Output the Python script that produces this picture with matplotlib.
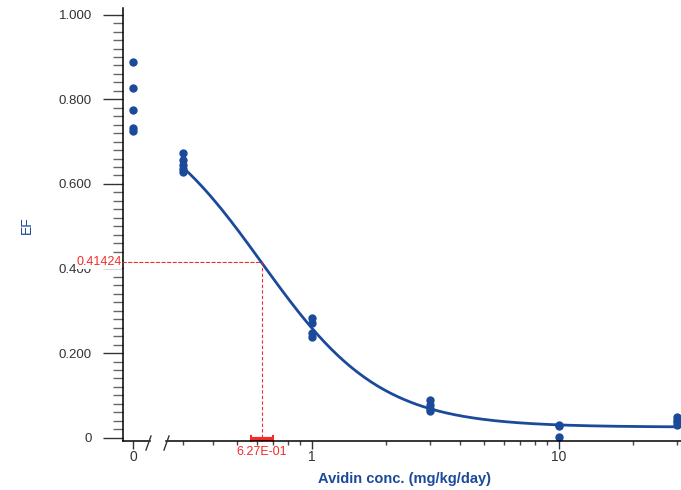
import matplotlib
matplotlib.use("Agg")
import matplotlib.pyplot as plt
import numpy as np
from matplotlib.patches import ConnectionPatch
from matplotlib.ticker import FixedLocator, NullFormatter, FixedFormatter

plt.rcParams['font.family'] = ['Liberation Sans', 'DejaVu Sans']

# ---- data ----
ctrl_y = [0.888, 0.827, 0.774, 0.733, 0.725]
dose_x = [0.3]*5 + [1]*4 + [3]*4 + [10]*3 + [30]*4
dose_y = [0.672, 0.656, 0.645, 0.636, 0.628,
          0.284, 0.270, 0.248, 0.239,
          0.090, 0.078, 0.068, 0.062,
          0.030, 0.027, 0.002,
          0.048, 0.042, 0.036, 0.030]
# 4-parameter logistic fit parameters
fit_top, fit_bottom, fit_ec50, fit_hill = 0.803, 0.025, 0.627, 1.8
ec50_y = 0.41424
ec50_ci = [0.568, 0.699]
ec50_label = "6.27E-01"
ec50_ylabel = "0.41424"
y_major = [0, 0.2, 0.4, 0.6, 0.8, 1.0]
y_labels = ['0', '0.200', '0.400', '0.600', '0.800', '1.000']

BLUE = '#1b4a9b'
RED = '#f52a2a'
TXT = '#333333'

W, H = 681, 490
fig = plt.figure(figsize=(W/100, H/100), dpi=100)

def fx(px):
    return px / W
def fy(py):
    return 1 - py / H

y_bot_px, y_top_px = 440.7, 8.0
zero_px, one_px, dec_px = 437.7, 311.7, 247.0
ylim = ((zero_px - y_bot_px) / 423.0, (zero_px - y_top_px) / 423.0)

# zero (control) axes
ax0 = fig.add_axes([fx(123), fy(y_bot_px), fx(150 - 123), (y_bot_px - y_top_px) / H])
# log axes
log_left, log_right = 166, 681
ax1 = fig.add_axes([fx(log_left), fy(y_bot_px), fx(log_right - log_left), (y_bot_px - y_top_px) / H])

for ax in (ax0, ax1):
    ax.set_ylim(*ylim)
    ax.spines['top'].set_visible(False)
    ax.spines['right'].set_visible(False)
    ax.spines['bottom'].set_linewidth(1.1)
    ax.spines['left'].set_linewidth(1.1)
    ax.patch.set_alpha(0)

ax0.set_xlim(-10, 17)
ax0.set_xticks([0])
ax0.set_xticklabels(['0'])
ax0.set_yticks(y_major)
ax0.set_yticklabels(y_labels)
ax0.yaxis.set_minor_locator(FixedLocator(np.round(np.arange(0, 1.001, 0.02), 3)))
ax0.tick_params(axis='y', which='major', length=14.4, width=1.0, pad=8, labelsize=9.5, colors=TXT)
ax0.tick_params(axis='y', which='minor', length=7.2, width=1.0, colors='#666666')
ax0.tick_params(axis='x', which='major', length=6, width=1.0, pad=1, labelsize=10, colors=TXT)
ax0.plot([0]*len(ctrl_y), ctrl_y, 'o', color=BLUE, ms=5, clip_on=False)

ax1.set_xscale('log')
ax1.set_xlim(10**((log_left - one_px) / dec_px), 10**((log_right - one_px) / dec_px))
ax1.spines['left'].set_visible(False)
ax1.set_yticks([])
ax1.xaxis.set_major_locator(FixedLocator([1, 10]))
ax1.xaxis.set_major_formatter(FixedFormatter(['1', '10']))
minors = [0.3, 0.4, 0.5, 0.6, 0.7, 0.8, 0.9, 2, 3, 4, 5, 6, 7, 8, 9, 20, 30]
ax1.xaxis.set_minor_locator(FixedLocator(minors))
ax1.xaxis.set_minor_formatter(NullFormatter())
ax1.tick_params(axis='x', which='major', length=6, width=1.0, pad=1, labelsize=10, colors=TXT)
ax1.tick_params(axis='x', which='minor', length=3, width=1.0, colors='#444444')

# fitted curve
xc = np.logspace(np.log10(0.3), np.log10(30), 300)
yc = fit_bottom + (fit_top - fit_bottom) / (1 + (xc / fit_ec50) ** fit_hill)
ax1.plot(xc, yc, '-', color=BLUE, lw=2.0, clip_on=False)
ax1.plot(dose_x, dose_y, 'o', color=BLUE, ms=5, clip_on=False)

# EC50 guides
con = ConnectionPatch(xyA=(-10, ec50_y), coordsA=ax0.transData,
                      xyB=(fit_ec50, ec50_y), coordsB=ax1.transData,
                      color=RED, lw=0.8, linestyle=(0, (3, 2)))
fig.add_artist(con)
ax1.plot([fit_ec50, fit_ec50], [ec50_y, ylim[0]], color=RED, lw=0.8,
         linestyle=(0, (3, 2)), clip_on=False)
# CI bar on x axis
ax1.plot(ec50_ci, [ylim[0] + 0.004]*2, color=RED, lw=3, solid_capstyle='butt', clip_on=False)
for c in ec50_ci:
    ax1.plot([c, c], [ylim[0], ylim[0] + 0.012], color=RED, lw=1.5, clip_on=False)
ax1.text(fit_ec50, -0.033, ec50_label, color=RED, fontsize=9, ha='center', va='center')
ax0.text(-11, ec50_y, ec50_ylabel, color=RED, fontsize=9, ha='right', va='center',
         bbox=dict(facecolor='white', edgecolor='none', pad=0.3), zorder=5)

# break marks
for px in (148.5, 166.5):
    fig.add_artist(plt.Line2D([fx(px + 2.5), fx(px - 2.5)], [fy(436), fy(450)],
                              color='#333333', lw=1.0))

# axis titles
fig.text(fx(405), fy(479), 'Avidin conc. (mg/kg/day)', color=BLUE, fontsize=10.5,
         fontweight='bold', ha='center', va='center')
fig.text(fx(27), fy(225), 'EF', color=BLUE, fontsize=10, rotation=90, ha='center', va='center')

fig.savefig('out.png', dpi=100)
